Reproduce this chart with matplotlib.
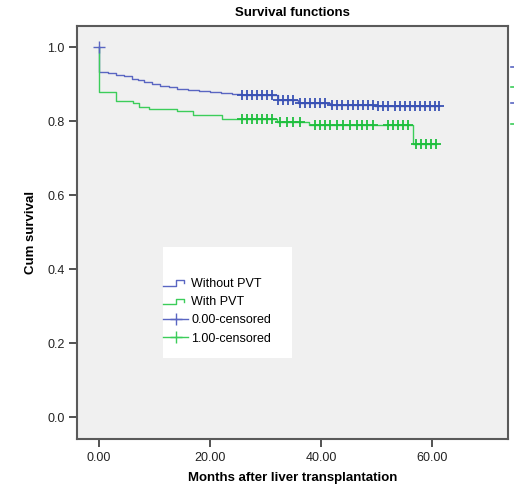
import numpy as np
import matplotlib
matplotlib.use("Agg")
import matplotlib.pyplot as plt
from matplotlib.lines import Line2D
from matplotlib.patches import Rectangle
from matplotlib.legend_handler import HandlerBase

plt.rcParams['font.family'] = ['Liberation Sans', 'DejaVu Sans']

# Kaplan-Meier estimates: event times (months) and survival after each step
without_t = [0.0, 1.5, 3.0, 4.5, 6.0, 7.0, 8.0, 9.5, 11.0, 12.5, 14.0, 16.0,
             18.0, 20.0, 22.0, 24.0, 25.5, 32.2, 35.9, 41.6, 49.7]
without_s = [0.932, 0.929, 0.925, 0.921, 0.915, 0.910, 0.905, 0.900, 0.896,
             0.892, 0.888, 0.885, 0.882, 0.879, 0.876, 0.873, 0.870, 0.857,
             0.849, 0.843, 0.840]
without_cens = [25.7, 26.6, 27.5, 28.4, 29.3, 30.2, 31.1, 32.3, 33.2, 34.1,
                35.0, 36.2, 37.1, 38.0, 38.9, 39.8, 40.7, 41.9, 42.8, 43.7,
                44.9, 45.8, 46.7, 47.6, 48.5, 49.4, 50.3, 51.2, 52.1, 53.3,
                54.2, 55.1, 56.0, 56.9, 57.8, 58.7, 59.6, 60.5, 61.3]

with_t = [0.0, 3.1, 6.1, 7.2, 9.0, 14.1, 17.0, 22.1, 32.0, 37.8, 56.6]
with_s = [0.879, 0.855, 0.848, 0.839, 0.832, 0.827, 0.816, 0.805, 0.798,
          0.790, 0.739]
with_cens = [25.7, 26.6, 27.5, 28.4, 29.3, 30.2, 31.1, 32.6, 33.8, 35.0,
             36.2, 38.9, 39.8, 40.7, 41.6, 42.8, 44.0, 45.2, 46.4, 47.3,
             48.2, 49.4, 52.1, 53.0, 53.9, 54.8, 55.7, 57.2, 58.1, 59.0,
             59.9, 60.8]

labels = ["Without PVT", "With PVT", "0.00-censored", "1.00-censored"]
xticks = [0, 20, 40, 60]
yticks = [0.0, 0.2, 0.4, 0.6, 0.8, 1.0]

blue_line, blue_mark = "#5a66c2", "#3a52b4"
green_line, green_mark = "#3ccd5a", "#1fbf3e"


def surv_at(times, surv, t):
    idx = np.searchsorted(times, t, side="right") - 1
    return np.where(idx < 0, 1.0, np.array(surv)[np.clip(idx, 0, None)])


class StepHandler(HandlerBase):
    def create_artists(self, legend, orig_handle, xdescent, ydescent,
                       width, height, fontsize, trans):
        w, h = width, height
        xs = np.array([0, 0.5, 0.5, 0.85, 0.85]) * w - xdescent
        ys = np.array([0.15, 0.15, 0.75, 0.75, 0.4]) * h - ydescent
        ln = Line2D(xs, ys, color=orig_handle.get_color(), lw=1.0)
        ln.set_transform(trans)
        return [ln]


fig = plt.figure(figsize=(5.14, 4.86), dpi=100)
ax = fig.add_axes([0.1498, 0.0967, 0.8385, 0.8498])
ax.set_facecolor("#f0f0f0")

for t, s, cens, lc, mc in [(without_t, without_s, without_cens, blue_line, blue_mark),
                           (with_t, with_s, with_cens, green_line, green_mark)]:
    xs = [0.0] + t + [cens[-1]]
    ys = [1.0] + s + [s[-1]]
    ax.step(xs, ys, where="post", color=lc, lw=1.0)
    ax.plot(cens, surv_at(t, s, cens), ls="none", marker="+", ms=7,
            mew=1.3, color=mc)

ax.plot([0.0], [1.0], ls="none", marker="+", ms=8, mew=1.0, color=blue_line)

ax.set_xlim(-4, 73.7)
ax.set_ylim(-0.059, 1.057)
ax.set_xticks(xticks)
ax.set_xticklabels([f"{v:.2f}" for v in xticks])
ax.set_yticks(yticks)
ax.set_yticklabels([f"{v:.1f}" for v in yticks])
ax.tick_params(direction="out", length=6, width=1.3, color="#444",
               labelsize=9, labelcolor="#222", pad=3)
for sp in ax.spines.values():
    sp.set_color("#5a5a5a")
    sp.set_linewidth(1.5)

ax.set_title("Survival functions", fontsize=9.5, fontweight="bold", pad=7)
ax.set_xlabel("Months after liver transplantation", fontsize=9.5,
              fontweight="bold", labelpad=6)
ax.set_ylabel("Cum survival", fontsize=9.5, fontweight="bold", labelpad=7)

# legend panel
ax.add_patch(Rectangle((0.2, 0.195), 0.298, 0.27, transform=ax.transAxes,
                       facecolor="white", edgecolor="none", zorder=3))
handles = [Line2D([], [], color=blue_line), Line2D([], [], color=green_line),
           Line2D([], [], color=blue_line, marker="+", ms=9, mew=1.0, lw=1.0),
           Line2D([], [], color=green_line, marker="+", ms=9, mew=1.0, lw=1.0)]
leg = ax.legend(handles, labels, loc="upper left",
                bbox_to_anchor=(0.2, 0.39), frameon=False, fontsize=9,
                handlelength=2.0, handletextpad=0.25, labelspacing=0.5,
                borderaxespad=0, borderpad=0,
                handler_map={handles[0]: StepHandler(), handles[1]: StepHandler()})
leg.set_zorder(4)

# clipped legend marks beyond the right edge
for y, c in [(66.7, blue_line), (86.7, green_line), (103.0, blue_line), (124.0, green_line)]:
    fy = 1 - y / 486
    fig.add_artist(Line2D([511 / 514, 1.0], [fy, fy], color=c, lw=1.2,
                          transform=fig.transFigure))

fig.savefig("out.png", dpi=100)
